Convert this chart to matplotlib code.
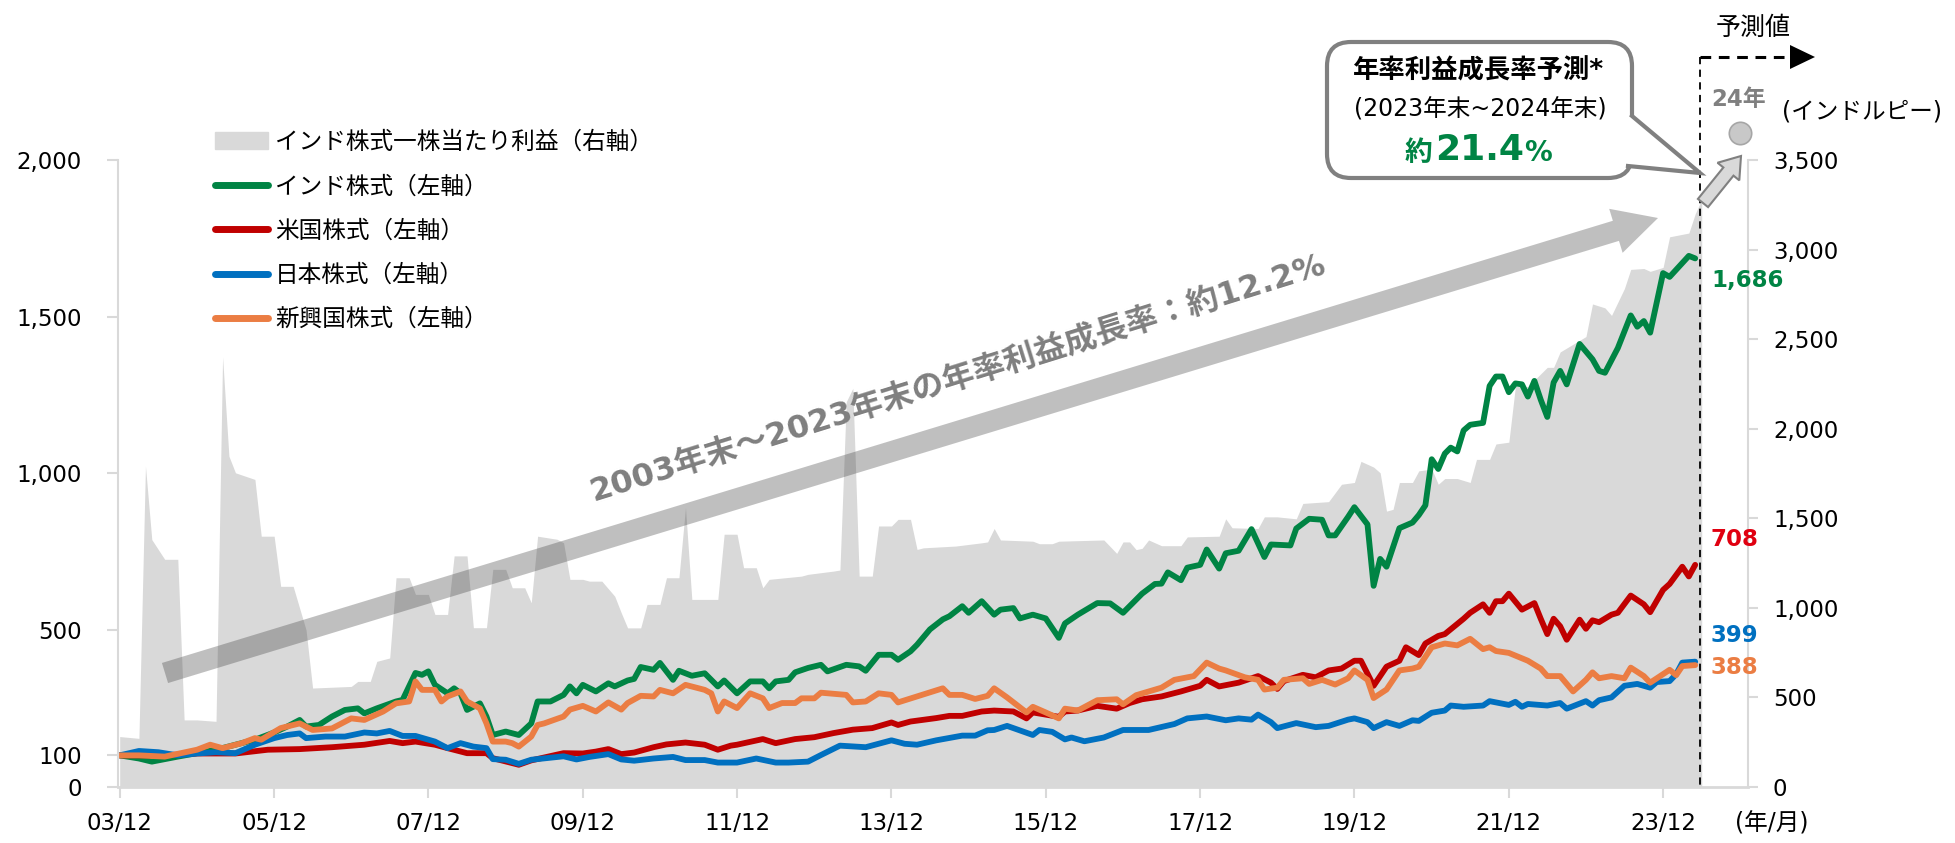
import pandas as pd
import matplotlib
matplotlib.use("Agg")
import matplotlib.pyplot as plt
from matplotlib.patches import FancyArrow, FancyBboxPatch, Polygon, Patch
from matplotlib.lines import Line2D
from matplotlib.transforms import Affine2D

plt.rcParams["font.family"] = ["DejaVu Sans", "Noto Sans CJK JP"]

# データ: (2003/12からの月数, 値)  2003年12月末=100
india = [(0,100),(3,90),(5,80),(9,96),(12,107),(15,118),(18,134),(21,150),(24,173),(26,192),(28,213),(29,192),
         (31,197),(33,224),(35,245),(37,250),(38,234),(40,250),(43,272),(44,277),(46,363),(47,357),(48,368),
         (49,325),(51,298),(52,314),(53,298),(54,245),(56,266),(57,224),(58,165),(60,176),(62,165),(64,202),
         (65,272),(67,272),(69,293),(70,320),(71,298),(72,325),(74,304),(76,330),(77,320),(79,339),(80,344),
         (81,382),(83,373),(84,395),(86,341),(87,370),(89,354),(91,362),(93,320),(94,339),(96,298),(98,336),
         (100,336),(101,314),(102,336),(104,341),(105,365),(107,379),(109,389),(110,368),(113,389),(115,384),
         (116,370),(118,421),(120,421),(121,405),(123,432),(124,453),(126,502),(128,534),(129,544),(131,576),
         (132,555),(134,592),(136,549),(137,565),(139,570),(140,537),(142,549),(144,537),(146,475),(147,521),
         (149,549),(152,586),(154,585),(156,555),(159,616),(161,647),(162,648),(163,684),(165,659),(166,699),
         (168,708),(169,757),(171,696),(172,745),(174,753),(176,822),(178,733),(179,773),(182,770),(183,824),
         (185,855),(187,852),(188,802),(189,802),(191,861),(192,892),(194,837),(195,641),(196,727),(197,702),
         (199,825),(201,843),(202,867),(203,898),(204,1045),(205,1014),(206,1063),(207,1082),(208,1070),
         (209,1137),(210,1155),(212,1161),(213,1279),(214,1309),(215,1309),(216,1259),(217,1287),(218,1284),
         (219,1245),(220,1295),(221,1235),(222,1180),(223,1290),(224,1327),(225,1284),(227,1413),(229,1364),
         (230,1327),(231,1321),(233,1400),(235,1504),(236,1468),(237,1486),(238,1449),(240,1639),(241,1627),
         (244,1694),(245,1686)]

us = [(0,100),(7,100),(12,106),(18,106),(23,118),(28,120),(33,126),(38,134),(42,146),(44,139),(46,144),(49,134),
      (51,123),(54,107),(57,107),(58,91),(62,70),(64,84),(69,107),(72,106),(74,112),(76,120),(78,104),(80,109),
      (83,126),(85,135),(88,141),(91,134),(93,118),(95,131),(96,134),(100,152),(102,139),(105,152),(108,158),
      (111,171),(114,182),(117,187),(120,205),(121,197),(123,208),(127,219),(129,226),(131,226),(134,240),
      (136,243),(139,240),(141,218),(142,237),(146,223),(147,240),(149,243),(152,258),(155,249),(157,267),
      (159,279),(162,288),(165,304),(168,322),(169,341),(171,320),(174,332),(177,353),(179,332),(180,312),
      (181,337),(184,357),(186,349),(188,371),(190,377),(192,402),(193,402),(195,322),(197,383),(199,402),
      (200,445),(202,420),(203,457),(205,481),(206,487),(209,536),(210,555),(212,582),(213,555),(214,592),
      (215,592),(216,616),(218,565),(220,586),(221,536),(222,487),(223,536),(224,512),(225,469),(227,533),
      (228,504),(229,531),(230,525),(232,549),(233,555),(235,610),(237,582),(238,557),(240,628),(241,647),
      (243,702),(244,671),(245,708)]

japan = [(0,100),(3,114),(6,110),(9,100),(12,106),(15,110),(18,107),(21,134),(24,155),(26,165),(28,170),(29,155),
         (32,160),(35,160),(38,173),(40,170),(42,178),(44,162),(46,162),(49,144),(51,123),(53,139),(55,128),
         (57,123),(58,88),(60,86),(62,73),(64,86),(69,97),(71,87),(73,95),(76,104),(78,87),(80,83),(83,90),
         (86,95),(88,85),(91,85),(93,77),(96,77),(99,90),(102,77),(104,77),(107,80),(109,101),(112,131),
         (116,126),(118,137),(120,148),(122,137),(124,134),(127,148),(131,163),(133,163),(135,180),(136,181),
         (138,194),(139,187),(142,165),(143,181),(145,175),(147,151),(148,157),(150,145),(153,157),(156,181),
         (160,181),(164,200),(166,218),(169,224),(172,212),(174,218),(176,214),(177,230),(179,206),(180,187),
         (183,203),(186,190),(188,194),(191,214),(192,218),(194,206),(195,187),(197,206),(199,194),(201,212),
         (202,210),(204,236),(206,243),(207,259),(209,255),(212,259),(213,273),(216,261),(217,271),(218,255),
         (219,264),(222,259),(224,267),(225,249),(228,273),(229,259),(230,276),(232,285),(234,322),(236,328),
         (238,316),(239,334),(241,337),(242,359),(243,396),(245,399)]

emerging = [(0,100),(3,100),(7,96),(12,118),(14,134),(16,123),(19,139),(21,155),(22,150),(25,187),(28,202),
            (30,181),(33,186),(36,218),(38,213),(41,240),(43,266),(45,272),(46,336),(47,309),(49,309),(50,272),
            (51,288),(53,304),(54,272),(56,250),(57,202),(58,144),(60,144),(61,139),(62,128),(64,160),(65,197),
            (66,202),(69,224),(70,246),(72,258),(74,240),(76,269),(78,246),(79,267),(81,290),(83,288),(84,309),
            (86,298),(88,325),(91,309),(92,298),(93,240),(94,272),(96,251),(98,298),(100,282),(101,251),(103,267),
            (105,267),(106,282),(108,282),(109,300),(113,293),(114,269),(116,272),(118,298),(120,293),(121,269),
            (124,288),(128,314),(129,293),(131,293),(133,280),(135,290),(136,314),(138,285),(141,237),(142,255),
            (144,237),(146,218),(147,249),(149,243),(152,276),(155,279),(156,263),(158,292),(162,316),(164,341),
            (167,353),(169,396),(171,377),(172,371),(175,349),(177,341),(178,310),(180,316),(181,341),(184,346),
            (185,328),(187,341),(189,326),(191,346),(192,371),(194,341),(195,283),(197,310),(199,371),(201,377),
            (202,383),(204,445),(206,457),(208,451),(210,472),(212,439),(213,445),(214,433),(216,427),(219,402),
            (221,377),(222,353),(224,353),(226,304),(228,341),(229,365),(230,346),(232,353),(234,346),(235,380),
            (237,353),(238,332),(241,373),(242,356),(243,385),(245,388)]

# インド株式一株当たり利益（インドルピー、右軸）
eps = [(0,280),(3,270),(4,1790),(5,1380),(7,1270),(9,1270),(10,373),(12,373),(15,365),(16,2400),(17,1846),
       (18,1753),(21,1716),(22,1399),(24,1399),(25,1119),(27,1119),(29,876),(30,551),(36,560),(37,588),(39,588),
       (40,700),(42,719),(43,1167),(45,1167),(46,1074),(48,1074),(49,962),(51,962),(52,1289),(54,1289),(55,888),
       (57,888),(58,1214),(60,1214),(61,1111),(63,1111),(64,1027),(65,1399),(68,1382),(69,1362),(70,1158),
       (72,1158),(73,1148),(75,1148),(77,1064),(78,971),(79,887),(81,887),(82,1018),(84,1018),(85,1167),
       (87,1167),(88,1559),(89,1046),(93,1046),(94,1410),(96,1410),(97,1223),(99,1223),(100,1111),(101,1158),
       (106,1176),(107,1186),(111,1204),(112,1210),(113,2150),(114,2225),(115,1176),(117,1176),(118,1456),
       (120,1456),(121,1493),(123,1493),(124,1325),(125,1334),(130,1344),(134,1362),(135,1367),(136,1442),
       (137,1378),(142,1371),(143,1357),(145,1357),(146,1371),(153,1378),(155,1303),(156,1367),(157,1367),
       (158,1324),(159,1331),(160,1378),(162,1346),(165,1346),(166,1395),(171,1399),(172,1496),(173,1446),
       (177,1442),(178,1507),(180,1507),(183,1496),(184,1582),(188,1592),(190,1689),(192,1699),(193,1817),
       (195,1785),(196,1753),(197,1539),(198,1549),(199,1699),(201,1699),(202,1764),(204,1774),(205,1689),
       (206,1721),(208,1721),(210,1699),(211,1828),(213,1828),(214,1914),(216,1924),(217,2235),(219,2235),
       (222,2342),(223,2342),(224,2428),(226,2471),(228,2514),(229,2696),(231,2674),(232,2632),(234,2782),
       (235,2889),(237,2894),(238,2878),(240,2900),(241,3071),(244,3092),(245,3199),(246,3280)]

eps_forecast_month = 252   # 24年末
eps_forecast = 3650

legend_labels = ["インド株式一株当たり利益（右軸）", "インド株式（左軸）", "米国株式（左軸）", "日本株式（左軸）", "新興国株式（左軸）"]
line_colors = ["#008444", "#C00000", "#0070C0", "#EB7D43"]
end_labels = ["1,686", "708", "399", "388"]
end_label_colors = ["#008444", "#E00010", "#0070C0", "#EB7D43"]

start = pd.Timestamp("2003-12-01")
months = pd.date_range(start, periods=260, freq="MS")


def unzip(series):
    m, v = zip(*series)
    return months[list(m)], list(v)


W, H = 1955, 843
fig = plt.figure(figsize=(W / 100, H / 100), dpi=100)
ax = fig.add_axes([118 / W, 1 - 786.7 / H, (1748 - 118) / W, (786.7 - 160) / H])
ax2 = ax.twinx()
ax.set_zorder(2)
ax2.set_zorder(1)
ax.patch.set_visible(False)

# 面グラフ（右軸）
x_eps, y_eps = unzip(eps)
ax2.fill_between(x_eps, y_eps, color="#D9D9D9", lw=0)
ax2.scatter([months[eps_forecast_month]], [eps_forecast], s=260, color="#C8C8C8",
            edgecolor="#A6A6A6", lw=1.2, clip_on=False, zorder=5)

for series, c in zip([india, us, japan, emerging], line_colors):
    xs, ys = unzip(series)
    ax.plot(xs, ys, color=c, lw=4.2, solid_joinstyle="round", solid_capstyle="round")

ax.set_xlim(start - pd.Timedelta(days=8), start + pd.Timedelta(days=7707))
ax.set_ylim(0, 2000)
ax2.set_ylim(0, 3500)

xt = months[::24][:11]
ax.set_xticks(xt)
ax.set_xticklabels([f"{d.year % 100:02d}/12" for d in xt])
lt = [0, 100, 500, 1000, 1500, 2000]
ax.set_yticks(lt)
ax.set_yticklabels([f"{v:,}" for v in lt])
rt = list(range(0, 3501, 500))
ax2.set_yticks(rt)
ax2.set_yticklabels([f"{v:,}" for v in rt])

for s in ["top", "right"]:
    ax.spines[s].set_visible(False)
for s in ["top", "left", "bottom"]:
    ax2.spines[s].set_visible(False)
ax.spines["left"].set_color("#D9D9D9")
ax.spines["left"].set_lw(1.5)
ax.spines["bottom"].set_color("#D9D9D9")
ax.spines["bottom"].set_lw(2)
ax2.spines["right"].set_color("#D9D9D9")
ax2.spines["right"].set_lw(1.5)
ax.tick_params(axis="x", length=8, width=1.5, color="#D9D9D9", labelsize=16.5, pad=10)
ax.tick_params(axis="y", length=8, width=1.5, color="#D9D9D9", labelsize=16.5, pad=18)
ax2.tick_params(axis="y", length=7, width=1.5, color="#D9D9D9", labelsize=16.5, pad=11)

handles = [Patch(color="#D9D9D9")] + [Line2D([], [], color=c, lw=5, solid_capstyle="round") for c in line_colors]
ax.legend(handles, legend_labels, loc="upper left", bbox_to_anchor=(215 / W, 1 - 130 / H),
          bbox_transform=fig.transFigure, frameon=False, fontsize=17, handlelength=2.25,
          handletextpad=0.3, labelspacing=0.86, borderpad=0, borderaxespad=0)

# ピクセル座標（左上原点）
PX = Affine2D().scale(1, -1).translate(0, H)


def ftext(x, y, s, **kw):
    fig.text(x / W, 1 - y / H, s, ha=kw.pop("ha", "center"), va=kw.pop("va", "center"), **kw)


# 大きな矢印
fig.add_artist(FancyArrow(165, 673, 1658 - 165, 218 - 673, width=21, head_width=46, head_length=44,
                          length_includes_head=True, color=(0.27, 0.27, 0.27), alpha=0.34, lw=0,
                          transform=PX, zorder=4))
ftext(958, 378, "2003年末～2023年末の年率利益成長率：約12.2%", rotation=17.3, rotation_mode="anchor",
      fontsize=23, fontweight="bold", color="#7F7F7F", zorder=5)

# 予測値の点線
fig.add_artist(Line2D([1700, 1700], [57, 787], transform=PX, color="black", lw=1.3, ls=(0, (4, 3)), zorder=6))
fig.add_artist(Line2D([1700, 1792], [57, 57], transform=PX, color="black", lw=2.2, ls=(0, (3.5, 2.5)), zorder=6))
fig.add_artist(Polygon([(1790, 45), (1815, 57), (1790, 69)], closed=True, fc="black", ec="none",
                       transform=PX, zorder=6))
ftext(1753, 28, "予測値", fontsize=18)
ftext(1739, 100, "24年", fontsize=16.5, fontweight="bold", color="#808080")
ftext(1862, 111, "(インドルピー)", fontsize=17)
ftext(1772, 823, "(年/月)", fontsize=17)

# 小さい矢印
fig.add_artist(FancyArrow(1703, 203, 1741 - 1703, 156 - 203, width=13, head_width=28, head_length=20,
                          length_includes_head=True, fc="#D9D9D9", ec="#808080", lw=1.5,
                          transform=PX, zorder=6))

# 吹き出し
fig.add_artist(FancyBboxPatch((1327, 42), 305, 136, boxstyle="round,pad=0,rounding_size=24",
                              fc="white", ec="#808080", lw=3, transform=PX, zorder=7))
fig.add_artist(Polygon([(1622, 116), (1632, 116), (1700, 173), (1628, 166), (1618, 160)], closed=True,
                       fc="white", ec="none", transform=PX, zorder=7.1))
fig.add_artist(Line2D([1632, 1700, 1628], [116, 173, 166], transform=PX, color="#808080", lw=3,
                      solid_joinstyle="miter", zorder=7.2))
ftext(1479, 71, "年率利益成長率予測*", fontsize=19, fontweight="bold", zorder=8)
ftext(1480, 110, "(2023年末~2024年末)", fontsize=17, zorder=8)
ftext(1432, 153, "約", fontsize=20, fontweight="bold", color="#008444", ha="right", zorder=8)
ftext(1435, 150, "21.4", fontsize=26, fontweight="bold", color="#008444", ha="left", zorder=8)
ftext(1524, 153, "%", fontsize=20, fontweight="bold", color="#008444", ha="left", zorder=8)

# 末端の値ラベル
for s, c, y in zip(end_labels, end_label_colors, [280, 539, 636, 667]):
    ftext(1711, y, s, fontsize=16.5, fontweight="bold", color=c, ha="left")

fig.savefig("out.png", dpi=100)
